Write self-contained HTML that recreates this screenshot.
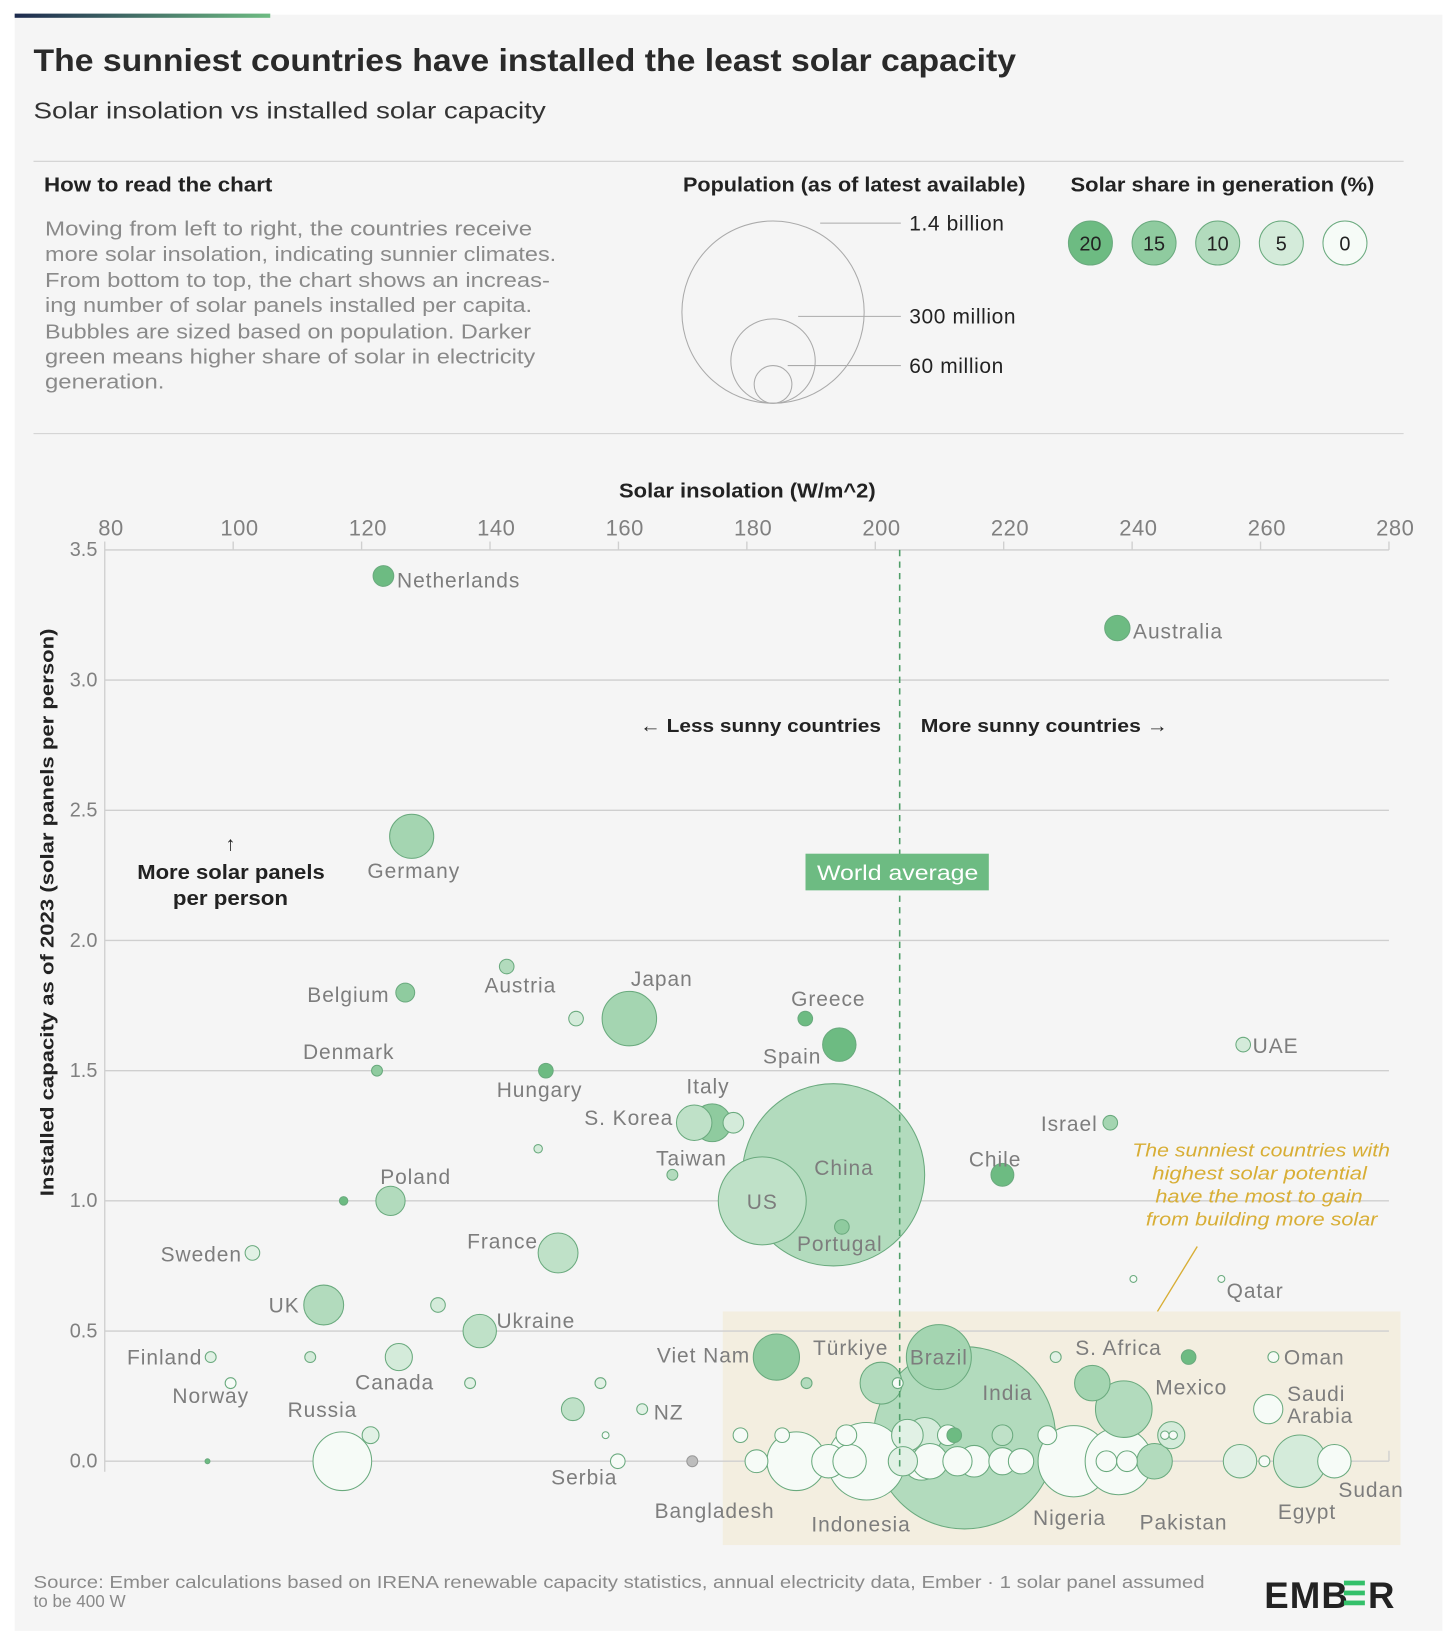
<!DOCTYPE html>
<html><head><meta charset="utf-8">
<style>
html,body{margin:0;padding:0;background:#fff;width:1456px;height:1646px;overflow:hidden}
#wrap{width:1390px;height:1572px;transform:scale(1.04748);transform-origin:0 0;position:relative}
svg text{font-family:"Liberation Sans",sans-serif}
</style></head>
<body>
<div id="wrap">
<svg id="svg" width="1390" height="1572" xmlns="http://www.w3.org/2000/svg">
<defs><linearGradient id="tg" x1="0" x2="1"><stop offset="0" stop-color="#1d2a4e"/><stop offset="1" stop-color="#6dbb82"/></linearGradient></defs>
<rect x="14" y="14" width="1363" height="1543" fill="#f5f5f5"/>
<rect x="14" y="13" width="244" height="4" fill="url(#tg)"/>
<text x="32" y="68" font-size="30" font-weight="bold" fill="#2a2a2a" textLength="938" lengthAdjust="spacingAndGlyphs">The sunniest countries have installed the least solar capacity</text>
<text x="32" y="113" font-size="22" fill="#333" textLength="489" lengthAdjust="spacingAndGlyphs">Solar insolation vs installed solar capacity</text>
<line x1="32" y1="154" x2="1340" y2="154" stroke="#d0d0d0"/>
<line x1="32" y1="414" x2="1340" y2="414" stroke="#d0d0d0"/>
<text x="42" y="183" font-size="19" font-weight="bold" fill="#222" textLength="218" lengthAdjust="spacingAndGlyphs">How to read the chart</text>
<g font-size="19" fill="#8a8a8a">
<text x="43" y="225" textLength="465" lengthAdjust="spacingAndGlyphs">Moving from left to right, the countries receive</text>
<text x="43" y="249" textLength="488" lengthAdjust="spacingAndGlyphs">more solar insolation, indicating sunnier climates.</text>
<text x="43" y="274" textLength="482" lengthAdjust="spacingAndGlyphs">From bottom to top, the chart shows an increas-</text>
<text x="43" y="298" textLength="465" lengthAdjust="spacingAndGlyphs">ing number of solar panels installed per capita.</text>
<text x="43" y="323" textLength="464" lengthAdjust="spacingAndGlyphs">Bubbles are sized based on population. Darker</text>
<text x="43" y="347" textLength="468" lengthAdjust="spacingAndGlyphs">green means higher share of solar in electricity</text>
<text x="43" y="371" textLength="114" lengthAdjust="spacingAndGlyphs">generation.</text>
</g>
<text x="652" y="183" font-size="19" font-weight="bold" fill="#222" textLength="327" lengthAdjust="spacingAndGlyphs">Population (as of latest available)</text>
<g id="popLegend"></g>
<text x="1022" y="183" font-size="19" font-weight="bold" fill="#222" textLength="290" lengthAdjust="spacingAndGlyphs">Solar share in generation (%)</text>
<g id="shareLegend"></g>
<text x="591" y="475" font-size="19" font-weight="bold" fill="#222" textLength="245" lengthAdjust="spacingAndGlyphs">Solar insolation (W/m^2)</text>
<text transform="translate(51,1142) rotate(-90)" font-size="18" font-weight="bold" fill="#222" textLength="542" lengthAdjust="spacingAndGlyphs">Installed capacity as of 2023 (solar panels per person)</text>
<rect x="690" y="1252" width="647" height="223" fill="#f3eee0"/>
<g id="grid"></g>
<g id="bubbles"></g>
<g id="labels"></g>
<line id="avgLine" y1="525" y2="1400" stroke="#4f9e68" stroke-width="1.5" stroke-dasharray="6,5"/>
<rect x="769" y="815" width="175" height="35" fill="#6dbb82"/>
<text x="780" y="840" font-size="20" fill="#fff" textLength="154" lengthAdjust="spacingAndGlyphs">World average</text>
<text x="611" y="699" font-size="18" font-weight="bold" fill="#222" textLength="230" lengthAdjust="spacingAndGlyphs">← Less sunny countries</text>
<text x="879" y="699" font-size="18" font-weight="bold" fill="#222" textLength="236" lengthAdjust="spacingAndGlyphs">More sunny countries →</text>
<g font-size="19" font-weight="bold" fill="#222">
<text x="220" y="812" text-anchor="middle">↑</text><text x="131" y="839" textLength="179" lengthAdjust="spacingAndGlyphs">More solar panels</text><text x="165" y="864" textLength="110" lengthAdjust="spacingAndGlyphs">per person</text></g>
<g font-size="18" font-style="italic" fill="#d8ae35">
<text x="1081" y="1104" textLength="246" lengthAdjust="spacingAndGlyphs">The sunniest countries with</text><text x="1100" y="1126" textLength="205" lengthAdjust="spacingAndGlyphs">highest solar potential</text>
<text x="1103" y="1148" textLength="198" lengthAdjust="spacingAndGlyphs">have the most to gain</text><text x="1094" y="1170" textLength="221" lengthAdjust="spacingAndGlyphs">from building more solar</text></g>
<line x1="1143" y1="1190" x2="1105" y2="1252" stroke="#d8ae35" stroke-width="1.3"/>
<g font-size="17" fill="#8a8a8a">
<text x="32" y="1516" textLength="1118" lengthAdjust="spacingAndGlyphs">Source: Ember calculations based on IRENA renewable capacity statistics, annual electricity data, Ember · 1 solar panel assumed</text>
<text x="32" y="1534" textLength="88" lengthAdjust="spacingAndGlyphs">to be 400 W</text></g>
<g>
<text x="1207" y="1535" font-size="35" font-weight="bold" fill="#222" letter-spacing="1">EMB</text>
<rect x="1283" y="1509" width="20" height="4.5" fill="#34c06a"/><rect x="1283" y="1518.5" width="20" height="4.5" fill="#34c06a"/><rect x="1283" y="1528" width="20" height="4.5" fill="#34c06a"/>
<text x="1306" y="1535" font-size="35" font-weight="bold" fill="#222">R</text></g>
</svg>
</div>
<script>
const xTicks=[80,100,120,140,160,180,200,220,240,260,280];
const yTicks=[0,0.5,1,1.5,2,2.5,3,3.5];
const worldAverage=[203.8];
const shareLegend=[20,15,10,5,0];
const popLegend=[1400,300,60];
const popLegendLabels=["1.4 billion","300 million","60 million"];
const names=["Netherlands","Australia","Germany","Belgium","Austria","Japan","","Greece","Spain","UAE","Denmark","Hungary","Italy","S. Korea","Taiwan","Israel","","China","Chile","","US","Poland","","Portugal","Sweden","France","UK","","","Qatar","Ukraine","Finland","","Canada","Viet Nam","Türkiye","Brazil","","","Oman","Norway","","","","","S. Africa","India","Mexico","Saudi Arabia","","NZ","","",
"","","","","","","","","","","","",
"","Russia","Serbia","","","Bangladesh","","","Indonesia","","","","","","","","Nigeria","Pakistan","","","","","","Egypt","Sudan"];
const insolation=[123.4,237.7,127.8,126.8,142.6,161.7,153.4,189.1,194.4,257.3,122.4,148.7,174.6,171.8,177.9,236.6,147.5,193.5,219.8,168.4,182.4,124.5,117.2,194.8,103,150.6,114.1,131.9,240.2,253.9,138.4,96.5,112,125.8,184.6,200.9,209.9,228.1,248.8,262,99.6,136.9,157.2,189.3,203.5,233.8,213.9,238.7,261.2,152.9,163.7,121.4,158,
179.0,185.5,195.5,205.0,207.7,211.3,212.3,219.8,226.8,246.1,245.1,246.4,
96.0,117.0,159.9,171.5,181.5,187.7,192.7,196.0,198.6,204.3,207.2,208.5,212.8,215.4,219.8,222.7,230.9,237.9,236.0,239.2,243.5,256.8,260.6,266.1,271.5];
const capacity=[3.4,3.2,2.4,1.8,1.9,1.7,1.7,1.7,1.6,1.6,1.5,1.5,1.3,1.3,1.3,1.3,1.2,1.1,1.1,1.1,1.0,1.0,1.0,0.9,0.8,0.8,0.6,0.6,0.7,0.7,0.5,0.4,0.4,0.4,0.4,0.3,0.4,0.4,0.4,0.4,0.3,0.3,0.3,0.3,0.3,0.3,0.09,0.2,0.2,0.2,0.2,0.1,0.1,
0.1,0.1,0.1,0.1,0.1,0.1,0.1,0.1,0.1,0.1,0.1,0.1,
0,0,0,0,0,0,0,0,0,0,0,0,0,0,0,0,0,0,0,0,0,0,0,0,0];
const population=[18,27,82,15,9,125,9,9,47,9,5,9,60,53,18,9,3,1400,22,5,326,36,3,9,9,67,67,9,2,2,47,5,5,31,90,74,178,5,9,5,5,5,5,5,5,53,1400,135,36,22,5,12,2,
9,9,18,42,53,18,9,18,15,31,3,3,
1,145,9,5,22,145,47,47,253,36,60,53,36,42,31,27,214,189,18,18,53,47,5,116,47];
const share=[20,20,12,15,10,12,5,20,20,5,15,20,15,8,5,12,5,10,20,10,8,10,20,15,3,8,10,5,0,0,8,3,5,5,15,10,12,3,20,0,0,3,3,10,0,12,10,10,0,8,3,3,0,
0,0,0,3,5,0,20,8,0,5,0,0,
20,0,0,-1,0,0,0,0,0,3,0,0,0,0,0,0,0,0,0,0,10,3,0,5,0];
const labelOffsets={"Netherlands":[13,4,"start"],"Australia":[15,3,"start"],"Germany":[2,33,"middle"],"Belgium":[-15,2,"end"],"Austria":[13,18,"middle"],"Japan":[31,-38,"middle"],"Greece":[22,-19,"middle"],"Spain":[-45,11,"middle"],"UAE":[9,1,"start"],"Denmark":[-27,-18,"middle"],"Hungary":[-6,18,"middle"],"Italy":[-4,-35,"middle"],"S. Korea":[-20,-5,"end"],"Taiwan":[-40,34,"middle"],"Israel":[-12,1,"end"],"China":[10,-7,"middle"],"Chile":[-7,-15,"middle"],"US":[0,1,"middle"],"Poland":[24,-23,"middle"],"Portugal":[-2,16,"middle"],"Sweden":[-10,1,"end"],"France":[-53,-11,"middle"],"UK":[-23,0,"end"],"Qatar":[5,11,"start"],"Ukraine":[16,-10,"start"],"Finland":[-8,0,"end"],"Canada":[-4,24,"middle"],"Norway":[-19,12,"middle"],"Russia":[-19,-49,"middle"],"Viet Nam":[-25,-2,"end"],"Türkiye":[-29,-34,"middle"],"Brazil":[0,0,"middle"],"NZ":[11,3,"start"],"Serbia":[-32,15,"middle"],"Bangladesh":[-78,47,"middle"],"Indonesia":[-5,60,"middle"],"India":[41,-43,"middle"],"S. Africa":[25,-34,"middle"],"Mexico":[30,-21,"start"],"Oman":[10,0,"start"],"Saudi Arabia":[18,-15,"start"],"Nigeria":[-4,54,"middle"],"Pakistan":[62,58,"middle"],"Egypt":[7,48,"middle"],"Sudan":[35,27,"middle"]};

const NS="http://www.w3.org/2000/svg";
const X0=100,X1=1326,Y0=1395,Y1=525;
function xs(v){return X0+(v-80)/200*(X1-X0);}
function ys(v){return Y0-v/3.5*(Y0-Y1);}
function rs(p){return 87*Math.sqrt(p/1400);}
function mix(a,b,t){return Math.round(a+(b-a)*t);}
function shareColor(s){if(s<0)return "#bdbdbd";const t=Math.min(s,20)/20;return `rgb(${mix(246,109,t)},${mix(251,187,t)},${mix(247,130,t)})`;}
function el(tag,attrs,parent){const e=document.createElementNS(NS,tag);for(const k in attrs)e.setAttribute(k,attrs[k]);parent.appendChild(e);return e;}

const grid=document.getElementById('grid');
yTicks.forEach(t=>{
  const g=el('line',{x1:X0,x2:X1,y1:ys(t),y2:ys(t),stroke:'#cfcfcf','stroke-width':1.3},grid);
  
  
  const tx=el('text',{x:93,y:ys(t)+6,'font-size':19,fill:'#808080','text-anchor':'end'},grid);
  tx.textContent=t.toFixed(1);
  
  
});
xTicks.forEach(t=>{
  const l=el('line',{x1:xs(t),x2:xs(t),y1:517,y2:Y1,stroke:'#cfcfcf','stroke-width':1.3},grid);
  
  
  const tx=el('text',{x:xs(t)+6,y:511,'font-size':21,fill:'#808080','text-anchor':'middle','letter-spacing':0.5},grid);
  tx.textContent=t;
  
  
});
const ax=el('line',{x1:X0,x2:X0,y1:Y1,y2:1405,stroke:'#cfcfcf','stroke-width':1.3},grid);


const rx=el('line',{x1:X1,x2:X1,y1:1385,y2:Y0,stroke:'#cfcfcf','stroke-width':1.3},grid);



const avg=document.getElementById('avgLine');
avg.setAttribute('x1',xs(worldAverage[0]));avg.setAttribute('x2',xs(worldAverage[0]));

const order=population.map((p,i)=>i).sort((a,b)=>population[b]-population[a]);
const bg=document.getElementById('bubbles');
order.forEach(i=>{
  const c=el('circle',{cx:xs(insolation[i]),cy:ys(capacity[i]),r:Math.max(2,rs(population[i])),fill:shareColor(share[i]),stroke:share[i]<0?'#999':'#6aaa7e','stroke-width':1},bg);
  
  
});
const lg=document.getElementById('labels');
names.forEach((n,i)=>{
  if(!n||!labelOffsets[n])return;
  const o=labelOffsets[n];const x=xs(insolation[i])+o[0],y=ys(capacity[i])+o[1]+7;
  const lines=n==="Saudi Arabia"?["Saudi","Arabia"]:[n];
  lines.forEach((s,k)=>{
    const t=el('text',{x:x,y:y+k*21,'font-size':20,'letter-spacing':0.9,fill:'#7d7d7d','text-anchor':o[2]},lg);
    t.textContent=s;
    
    
  });
});

const pl=document.getElementById('popLegend');
const lineY=[213,302,349];
popLegend.forEach((p,i)=>{
  const r=rs(p);
  const c=el('circle',{cx:738,cy:385-r,r:r,fill:'none',stroke:'#aaa','stroke-width':1},pl);
  
  
  const l=el('line',{x1:i==0?783:(i==1?762:752),x2:860,y1:lineY[i],y2:lineY[i],stroke:'#aaa'},pl);
  
  
  const t=el('text',{x:868,y:lineY[i]+7,'font-size':20,'letter-spacing':0.6,fill:'#222'},pl);
  t.textContent=popLegendLabels[i];
  
  
});
const sl=document.getElementById('shareLegend');
shareLegend.forEach((s,i)=>{
  const cx=1041+i*60.75;
  const c=el('circle',{cx:cx,cy:232,r:21,fill:shareColor(s),stroke:'#6aaa7e'},sl);
  
  
  const t=el('text',{x:cx,y:239,'font-size':19,fill:'#222','text-anchor':'middle'},sl);
  t.textContent=s;
  
  
});
</script>
</body></html>
